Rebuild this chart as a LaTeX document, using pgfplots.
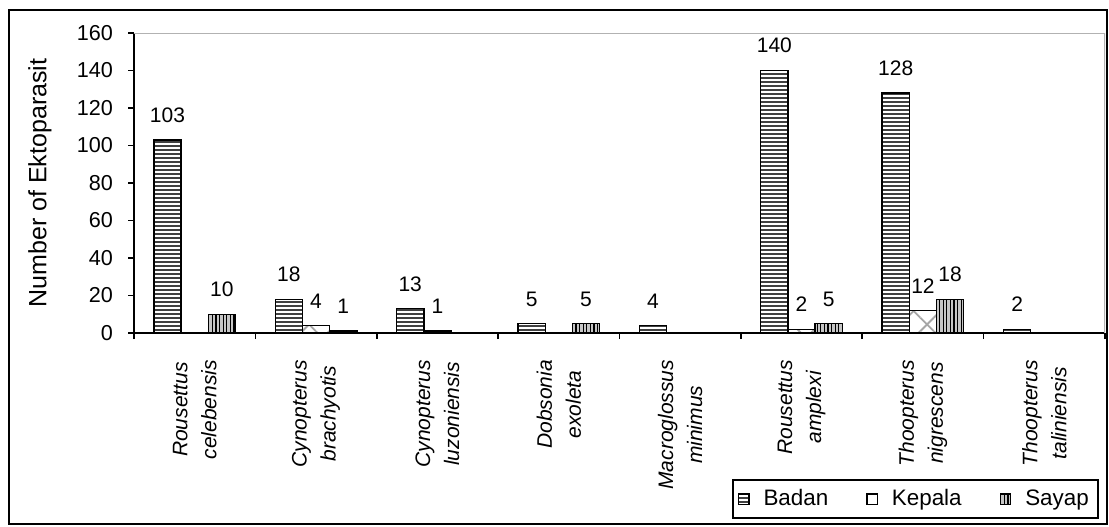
\documentclass[border=0pt]{standalone}
\usepackage{fontspec}
\setmainfont{Liberation Sans}
\usepackage{pgfplots}
\pgfplotsset{compat=1.18}
\usetikzlibrary{patterns.meta}

\begin{document}
\begin{tikzpicture}[x=1pt,y=1pt]
\useasboundingbox (0,0) rectangle (554.5,263);
\draw[line width=1pt] (4.5,1) rectangle (553.5,258);
\begin{axis}[
  at={(67pt,96.5pt)}, anchor=south west,
  scale only axis, width=485.5pt, height=150pt,
  ybar=0pt, bar width=13.6pt,
  xmin=-0.5, xmax=7.5, ymin=0, ymax=160,
  axis x line*=bottom, axis y line*=left,
  axis line style={line width=1pt, -},
  tick align=outside,
  major tick length=3pt,
  tick style={line width=0.8pt, black},
  xtick={-0.5,0.5,...,7.5},
  x tick label as interval,
  xticklabels={{Rousettus\\celebensis},{Cynopterus\\brachyotis},{Cynopterus\\luzoniensis},{Dobsonia\\exoleta},{Macroglossus\\minimus},{Rousettus\\amplexi},{Thoopterus\\nigrescens},{Thoopterus\\taliniensis}},
  xticklabel style={rotate=90, anchor=east, align=center, font=\fontsize{10.5}{14.5}\selectfont\itshape},
  xticklabel shift=7pt,
  ytick={0,20,...,160},
  yticklabel style={font=\fontsize{10.8}{12}\selectfont},
  yticklabel shift=4pt,
  /pgf/number format/assume math mode=true,
  ylabel={Number of Ektoparasit},
  ylabel style={at={(axis description cs:-0.0968,0.5)}, anchor=center, font=\fontsize{12.5}{14}\selectfont},
  nodes near coords,
  every node near coord/.append style={font=\fontsize{10.5}{12}\selectfont, yshift=5pt},
  legend columns=3,
  legend style={at={(axis description cs:0.9938,-0.62)}, anchor=south east, draw=black, line width=1pt, inner sep=2.6pt, font=\fontsize{11.2}{12}\selectfont, /tikz/every even column/.append style={column sep=17pt}, /tikz/every odd column/.append style={column sep=5pt}},
  legend image code/.code={\draw[#1, line width=0.6pt] (0pt,-2.6pt) rectangle (5.2pt,2.6pt);},
]
\addplot[draw=black, line width=0.7pt, fill=white,
  postaction={pattern={Lines[angle=0,distance=2pt,line width=1.2pt]}, pattern color=black!75}]
  coordinates {(0,103) (1,18) (2,13) (3,5) (4,4) (5,140) (6,128) (7,2)};
\addlegendentry{Badan}
\addplot[draw=black, line width=0.7pt, fill=white,
  postaction={pattern={Lines[angle=45,distance=9.5pt,line width=0.9pt]}, pattern color=gray!70},
  postaction={pattern={Lines[angle=-45,distance=9.5pt,line width=0.9pt]}, pattern color=gray!70}]
  coordinates {(1,4) (2,1) (5,2) (6,12)};
\addlegendentry{Kepala}
\addplot[draw=black, line width=0.7pt, fill=gray!45,
  postaction={pattern={Lines[angle=90,distance=1.8pt,line width=0.6pt]}, pattern color=black}]
  coordinates {(0,10) (1,1) (3,5) (5,5) (6,18)};
\addlegendentry{Sayap}
\draw[gray!60, line width=1pt] (rel axis cs:0,1) -- (rel axis cs:1,1) -- (rel axis cs:1,0);
\end{axis}
\end{tikzpicture}
\end{document}
